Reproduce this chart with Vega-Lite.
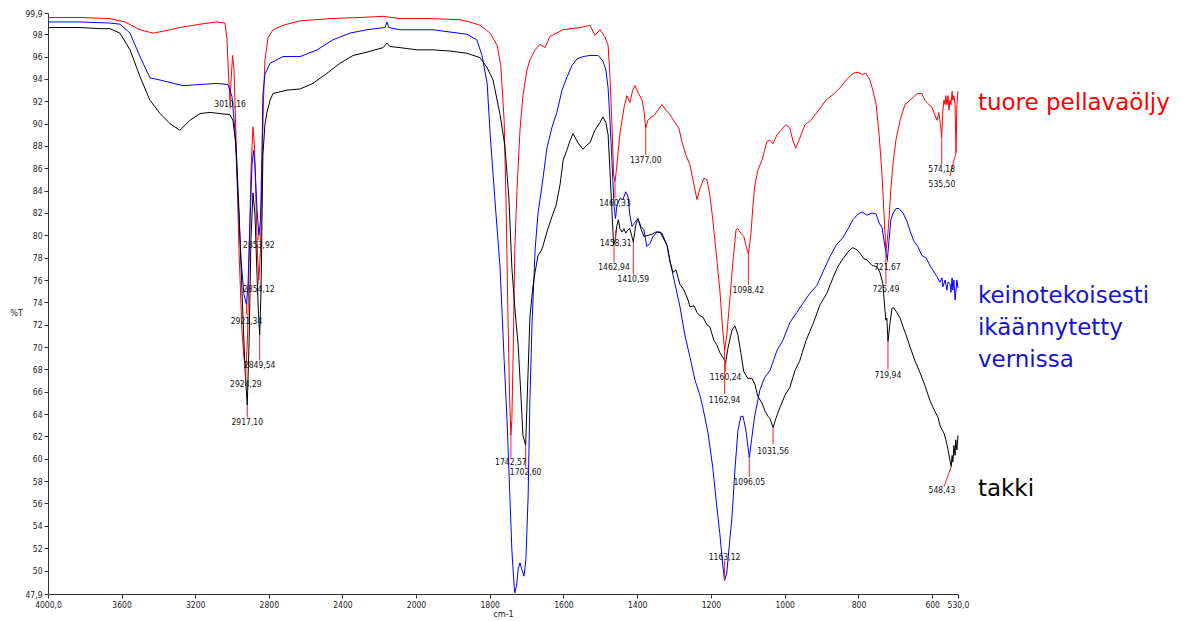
{
"$schema": "https://vega.github.io/schema/vega-lite/v6.json",
"width": 910, "height": 581,
"autosize": {"type": "none"},
"padding": {"left": 48, "top": 13, "right": 225, "bottom": 27},
"config": {"view": {"stroke": null}, "font": "DejaVu Sans"},
"resolve": {"scale": {"color": "independent"}},
"datasets": {
"spectra": [
{"series":"red","wn":4000,"T":99.5},{"series":"red","wn":3826,"T":99.5},{"series":"red","wn":3663,"T":99.4},{"series":"red","wn":3582,"T":99.1},{"series":"red","wn":3500,"T":98.4},{"series":"red","wn":3429,"T":98.1},{"series":"red","wn":3364,"T":98.3},{"series":"red","wn":3283,"T":98.6},{"series":"red","wn":3174,"T":98.9},{"series":"red","wn":3082,"T":99.1},{"series":"red","wn":3038,"T":99.0},{"series":"red","wn":3027,"T":97.5},{"series":"red","wn":3019,"T":94.3},{"series":"red","wn":3011,"T":92.1},{"series":"red","wn":3005,"T":93.9},{"series":"red","wn":2997,"T":96.1},{"series":"red","wn":2989,"T":94.8},{"series":"red","wn":2978,"T":88.7},{"series":"red","wn":2962,"T":78.7},{"series":"red","wn":2946,"T":71.5},{"series":"red","wn":2935,"T":69.0},{"series":"red","wn":2924,"T":68.2},{"series":"red","wn":2916,"T":70.6},{"series":"red","wn":2907,"T":77.8},{"series":"red","wn":2897,"T":85.8},{"series":"red","wn":2886,"T":89.7},{"series":"red","wn":2878,"T":88.1},{"series":"red","wn":2870,"T":83.2},{"series":"red","wn":2861,"T":78.2},{"series":"red","wn":2854,"T":76.0},{"series":"red","wn":2845,"T":78.7},{"series":"red","wn":2837,"T":85.8},{"series":"red","wn":2829,"T":92.1},{"series":"red","wn":2821,"T":95.7},{"series":"red","wn":2804,"T":97.7},{"series":"red","wn":2777,"T":98.4},{"series":"red","wn":2723,"T":98.8},{"series":"red","wn":2630,"T":99.2},{"series":"red","wn":2467,"T":99.4},{"series":"red","wn":2304,"T":99.5},{"series":"red","wn":2179,"T":99.6},{"series":"red","wn":2087,"T":99.4},{"series":"red","wn":1962,"T":99.4},{"series":"red","wn":1881,"T":99.3},{"series":"red","wn":1854,"T":99.1},{"series":"red","wn":1826,"T":98.8},{"series":"red","wn":1799,"T":98.1},{"series":"red","wn":1780,"T":97.0},{"series":"red","wn":1770,"T":95.2},{"series":"red","wn":1761,"T":90.3},{"series":"red","wn":1756,"T":83.3},{"series":"red","wn":1751,"T":73.5},{"series":"red","wn":1746,"T":65.4},{"series":"red","wn":1742.6,"T":62.1},{"series":"red","wn":1740,"T":63.5},{"series":"red","wn":1736,"T":70.2},{"series":"red","wn":1732,"T":78.8},{"series":"red","wn":1726,"T":84.1},{"series":"red","wn":1718,"T":89.4},{"series":"red","wn":1710,"T":92.5},{"series":"red","wn":1699,"T":94.8},{"series":"red","wn":1691,"T":95.7},{"series":"red","wn":1677,"T":96.6},{"series":"red","wn":1664,"T":97.1},{"series":"red","wn":1650,"T":96.8},{"series":"red","wn":1637,"T":97.8},{"series":"red","wn":1601,"T":98.4},{"series":"red","wn":1555,"T":98.6},{"series":"red","wn":1528,"T":98.8},{"series":"red","wn":1515,"T":97.9},{"series":"red","wn":1501,"T":98.4},{"series":"red","wn":1488,"T":97.8},{"series":"red","wn":1479,"T":97.0},{"series":"red","wn":1474,"T":94.3},{"series":"red","wn":1468,"T":89.4},{"series":"red","wn":1464,"T":85.4},{"series":"red","wn":1460.3,"T":84.8},{"series":"red","wn":1455,"T":86.3},{"series":"red","wn":1447,"T":89.1},{"series":"red","wn":1436,"T":91.4},{"series":"red","wn":1428,"T":92.5},{"series":"red","wn":1420,"T":91.9},{"series":"red","wn":1412,"T":93.0},{"series":"red","wn":1406,"T":93.4},{"series":"red","wn":1398,"T":92.8},{"series":"red","wn":1387,"T":92.1},{"series":"red","wn":1382,"T":91.2},{"series":"red","wn":1377,"T":89.6},{"series":"red","wn":1371,"T":90.3},{"series":"red","wn":1365,"T":90.5},{"series":"red","wn":1355,"T":90.7},{"series":"red","wn":1344,"T":91.2},{"series":"red","wn":1333,"T":91.7},{"series":"red","wn":1322,"T":91.2},{"series":"red","wn":1311,"T":90.8},{"series":"red","wn":1298,"T":90.1},{"series":"red","wn":1287,"T":89.6},{"series":"red","wn":1279,"T":88.4},{"series":"red","wn":1268,"T":87.2},{"series":"red","wn":1257,"T":86.3},{"series":"red","wn":1246,"T":84.5},{"series":"red","wn":1238,"T":83.2},{"series":"red","wn":1230,"T":84.2},{"series":"red","wn":1219,"T":85.1},{"series":"red","wn":1211,"T":85.0},{"series":"red","wn":1203,"T":83.6},{"series":"red","wn":1195,"T":81.4},{"series":"red","wn":1184,"T":77.8},{"series":"red","wn":1176,"T":75.1},{"series":"red","wn":1168,"T":71.5},{"series":"red","wn":1162.9,"T":69.7},{"series":"red","wn":1157,"T":71.1},{"series":"red","wn":1149,"T":74.2},{"series":"red","wn":1140,"T":77.8},{"series":"red","wn":1132,"T":80.5},{"series":"red","wn":1127,"T":80.6},{"series":"red","wn":1119,"T":80.2},{"series":"red","wn":1111,"T":79.9},{"series":"red","wn":1105,"T":79.1},{"series":"red","wn":1098.4,"T":78.3},{"series":"red","wn":1092,"T":80.0},{"series":"red","wn":1086,"T":82.7},{"series":"red","wn":1081,"T":84.5},{"series":"red","wn":1073,"T":85.8},{"series":"red","wn":1062,"T":86.7},{"series":"red","wn":1048,"T":88.4},{"series":"red","wn":1040,"T":88.5},{"series":"red","wn":1032,"T":88.2},{"series":"red","wn":1021,"T":89.0},{"series":"red","wn":1010,"T":89.4},{"series":"red","wn":997,"T":89.9},{"series":"red","wn":986,"T":89.6},{"series":"red","wn":978,"T":88.5},{"series":"red","wn":970,"T":87.8},{"series":"red","wn":959,"T":88.7},{"series":"red","wn":945,"T":89.9},{"series":"red","wn":929,"T":90.3},{"series":"red","wn":910,"T":91.1},{"series":"red","wn":888,"T":92.1},{"series":"red","wn":869,"T":92.6},{"series":"red","wn":850,"T":93.2},{"series":"red","wn":833,"T":93.9},{"series":"red","wn":815,"T":94.5},{"series":"red","wn":801,"T":94.6},{"series":"red","wn":790,"T":94.4},{"series":"red","wn":780,"T":94.5},{"series":"red","wn":769,"T":93.9},{"series":"red","wn":761,"T":93.0},{"series":"red","wn":752,"T":91.7},{"series":"red","wn":744,"T":89.0},{"series":"red","wn":736,"T":85.4},{"series":"red","wn":731,"T":82.2},{"series":"red","wn":725.5,"T":78.6},{"series":"red","wn":721.5,"T":79.6},{"series":"red","wn":717,"T":81.5},{"series":"red","wn":712,"T":84.2},{"series":"red","wn":706,"T":86.5},{"series":"red","wn":698,"T":88.6},{"series":"red","wn":687,"T":90.3},{"series":"red","wn":674,"T":91.7},{"series":"red","wn":660,"T":92.1},{"series":"red","wn":647,"T":92.5},{"series":"red","wn":639,"T":92.7},{"series":"red","wn":628,"T":92.7},{"series":"red","wn":620,"T":92.1},{"series":"red","wn":612,"T":91.8},{"series":"red","wn":601,"T":91.5},{"series":"red","wn":593,"T":90.8},{"series":"red","wn":587,"T":90.3},{"series":"red","wn":582,"T":91.0},{"series":"red","wn":578,"T":90.0},{"series":"red","wn":574.2,"T":88.8},{"series":"red","wn":571,"T":91.2},{"series":"red","wn":568,"T":92.1},{"series":"red","wn":565,"T":91.7},{"series":"red","wn":563,"T":92.5},{"series":"red","wn":560,"T":91.7},{"series":"red","wn":557,"T":92.5},{"series":"red","wn":554.5,"T":91.2},{"series":"red","wn":552,"T":92.1},{"series":"red","wn":549,"T":91.7},{"series":"red","wn":546,"T":92.9},{"series":"red","wn":544,"T":92.1},{"series":"red","wn":541,"T":92.5},{"series":"red","wn":538,"T":91.7},{"series":"red","wn":535.5,"T":87.4},{"series":"red","wn":533,"T":91.7},{"series":"red","wn":530,"T":92.9},
{"series":"blue","wn":4000,"T":99.1},{"series":"blue","wn":3826,"T":99.1},{"series":"blue","wn":3663,"T":99.0},{"series":"blue","wn":3609,"T":98.9},{"series":"blue","wn":3554,"T":98.1},{"series":"blue","wn":3500,"T":96.0},{"series":"blue","wn":3446,"T":94.1},{"series":"blue","wn":3391,"T":93.9},{"series":"blue","wn":3266,"T":93.4},{"series":"blue","wn":3174,"T":93.5},{"series":"blue","wn":3082,"T":93.6},{"series":"blue","wn":3022,"T":93.5},{"series":"blue","wn":3000,"T":92.4},{"series":"blue","wn":2984,"T":89.4},{"series":"blue","wn":2967,"T":83.3},{"series":"blue","wn":2951,"T":77.8},{"series":"blue","wn":2935,"T":74.7},{"series":"blue","wn":2921.3,"T":73.8},{"series":"blue","wn":2913,"T":75.6},{"series":"blue","wn":2902,"T":81.4},{"series":"blue","wn":2891,"T":86.3},{"series":"blue","wn":2883,"T":87.6},{"series":"blue","wn":2875,"T":86.3},{"series":"blue","wn":2864,"T":82.3},{"series":"blue","wn":2853.9,"T":80.0},{"series":"blue","wn":2845,"T":81.4},{"series":"blue","wn":2837,"T":87.6},{"series":"blue","wn":2832,"T":92.6},{"series":"blue","wn":2821,"T":94.4},{"series":"blue","wn":2793,"T":95.4},{"series":"blue","wn":2723,"T":96.0},{"series":"blue","wn":2630,"T":96.0},{"series":"blue","wn":2538,"T":96.6},{"series":"blue","wn":2451,"T":97.5},{"series":"blue","wn":2359,"T":98.1},{"series":"blue","wn":2266,"T":98.4},{"series":"blue","wn":2168,"T":98.6},{"series":"blue","wn":2158,"T":99.1},{"series":"blue","wn":2147,"T":98.6},{"series":"blue","wn":2087,"T":98.4},{"series":"blue","wn":1997,"T":98.4},{"series":"blue","wn":1954,"T":98.4},{"series":"blue","wn":1908,"T":98.2},{"series":"blue","wn":1862,"T":98.0},{"series":"blue","wn":1835,"T":97.5},{"series":"blue","wn":1821,"T":96.1},{"series":"blue","wn":1807,"T":93.6},{"series":"blue","wn":1799,"T":89.1},{"series":"blue","wn":1786,"T":83.2},{"series":"blue","wn":1772,"T":77.1},{"series":"blue","wn":1761,"T":68.9},{"series":"blue","wn":1753,"T":63.4},{"series":"blue","wn":1745,"T":56.3},{"series":"blue","wn":1740,"T":51.8},{"series":"blue","wn":1734,"T":48.7},{"series":"blue","wn":1732,"T":48.0},{"series":"blue","wn":1727,"T":48.7},{"series":"blue","wn":1723,"T":50.1},{"series":"blue","wn":1718,"T":50.7},{"series":"blue","wn":1713,"T":50.1},{"series":"blue","wn":1707,"T":49.5},{"series":"blue","wn":1702,"T":51.0},{"series":"blue","wn":1696,"T":56.5},{"series":"blue","wn":1691,"T":65.4},{"series":"blue","wn":1685,"T":72.4},{"series":"blue","wn":1677,"T":78.7},{"series":"blue","wn":1669,"T":82.0},{"series":"blue","wn":1658,"T":84.5},{"series":"blue","wn":1645,"T":87.8},{"series":"blue","wn":1631,"T":89.7},{"series":"blue","wn":1618,"T":91.0},{"series":"blue","wn":1604,"T":93.0},{"series":"blue","wn":1590,"T":94.2},{"series":"blue","wn":1577,"T":95.2},{"series":"blue","wn":1563,"T":95.8},{"series":"blue","wn":1547,"T":96.0},{"series":"blue","wn":1528,"T":96.1},{"series":"blue","wn":1506,"T":96.1},{"series":"blue","wn":1493,"T":95.6},{"series":"blue","wn":1485,"T":94.8},{"series":"blue","wn":1479,"T":93.2},{"series":"blue","wn":1474,"T":90.3},{"series":"blue","wn":1468,"T":86.3},{"series":"blue","wn":1463,"T":82.7},{"series":"blue","wn":1459,"T":81.5},{"series":"blue","wn":1455,"T":82.7},{"series":"blue","wn":1447,"T":83.3},{"series":"blue","wn":1439,"T":83.2},{"series":"blue","wn":1431,"T":83.9},{"series":"blue","wn":1425,"T":83.5},{"series":"blue","wn":1420,"T":81.8},{"series":"blue","wn":1414,"T":80.8},{"series":"blue","wn":1406,"T":81.2},{"series":"blue","wn":1398,"T":81.5},{"series":"blue","wn":1390,"T":80.8},{"series":"blue","wn":1382,"T":80.5},{"series":"blue","wn":1374,"T":79.0},{"series":"blue","wn":1365,"T":79.3},{"series":"blue","wn":1357,"T":79.9},{"series":"blue","wn":1346,"T":80.3},{"series":"blue","wn":1333,"T":80.2},{"series":"blue","wn":1319,"T":79.1},{"series":"blue","wn":1311,"T":77.7},{"series":"blue","wn":1298,"T":75.7},{"series":"blue","wn":1284,"T":73.6},{"series":"blue","wn":1271,"T":71.1},{"series":"blue","wn":1257,"T":69.1},{"series":"blue","wn":1243,"T":67.0},{"series":"blue","wn":1230,"T":65.7},{"series":"blue","wn":1222,"T":64.6},{"series":"blue","wn":1208,"T":62.3},{"series":"blue","wn":1195,"T":59.2},{"series":"blue","wn":1186,"T":56.3},{"series":"blue","wn":1176,"T":53.3},{"series":"blue","wn":1168,"T":50.5},{"series":"blue","wn":1163.1,"T":49.1},{"series":"blue","wn":1157,"T":49.8},{"series":"blue","wn":1149,"T":52.7},{"series":"blue","wn":1143,"T":54.8},{"series":"blue","wn":1135,"T":59.0},{"series":"blue","wn":1127,"T":62.5},{"series":"blue","wn":1119,"T":63.8},{"series":"blue","wn":1113,"T":63.8},{"series":"blue","wn":1105,"T":62.5},{"series":"blue","wn":1096,"T":60.1},{"series":"blue","wn":1090,"T":61.7},{"series":"blue","wn":1081,"T":63.9},{"series":"blue","wn":1067,"T":66.2},{"series":"blue","wn":1054,"T":67.3},{"series":"blue","wn":1040,"T":67.9},{"series":"blue","wn":1021,"T":69.7},{"series":"blue","wn":1005,"T":70.6},{"series":"blue","wn":986,"T":72.2},{"series":"blue","wn":967,"T":73.1},{"series":"blue","wn":951,"T":73.9},{"series":"blue","wn":932,"T":74.8},{"series":"blue","wn":913,"T":75.5},{"series":"blue","wn":894,"T":76.9},{"series":"blue","wn":877,"T":78.1},{"series":"blue","wn":861,"T":79.1},{"series":"blue","wn":842,"T":79.8},{"series":"blue","wn":828,"T":80.6},{"series":"blue","wn":815,"T":81.4},{"series":"blue","wn":801,"T":81.9},{"series":"blue","wn":790,"T":82.1},{"series":"blue","wn":777,"T":81.8},{"series":"blue","wn":763,"T":82.0},{"series":"blue","wn":752,"T":81.9},{"series":"blue","wn":744,"T":81.1},{"series":"blue","wn":736,"T":80.7},{"series":"blue","wn":731,"T":79.6},{"series":"blue","wn":725.5,"T":78.5},{"series":"blue","wn":721.7,"T":77.8},{"series":"blue","wn":717,"T":79.6},{"series":"blue","wn":712,"T":81.4},{"series":"blue","wn":706,"T":82.0},{"series":"blue","wn":698,"T":82.4},{"series":"blue","wn":690,"T":82.4},{"series":"blue","wn":679,"T":82.0},{"series":"blue","wn":668,"T":81.2},{"series":"blue","wn":660,"T":80.4},{"series":"blue","wn":650,"T":79.5},{"series":"blue","wn":639,"T":79.0},{"series":"blue","wn":628,"T":78.2},{"series":"blue","wn":617,"T":78.0},{"series":"blue","wn":606,"T":77.3},{"series":"blue","wn":595,"T":76.7},{"series":"blue","wn":587,"T":76.3},{"series":"blue","wn":579,"T":75.8},{"series":"blue","wn":573.5,"T":76.2},{"series":"blue","wn":571,"T":75.4},{"series":"blue","wn":565,"T":76.0},{"series":"blue","wn":560,"T":75.1},{"series":"blue","wn":557,"T":75.8},{"series":"blue","wn":552,"T":75.7},{"series":"blue","wn":549,"T":74.9},{"series":"blue","wn":546,"T":76.2},{"series":"blue","wn":544,"T":75.1},{"series":"blue","wn":541,"T":76.0},{"series":"blue","wn":538,"T":74.2},{"series":"blue","wn":536,"T":74.9},{"series":"blue","wn":533,"T":76.0},{"series":"blue","wn":530,"T":75.3},
{"series":"black","wn":4000,"T":98.6},{"series":"black","wn":3826,"T":98.6},{"series":"black","wn":3717,"T":98.5},{"series":"black","wn":3663,"T":98.5},{"series":"black","wn":3609,"T":98.1},{"series":"black","wn":3554,"T":96.6},{"series":"black","wn":3500,"T":94.2},{"series":"black","wn":3446,"T":92.1},{"series":"black","wn":3391,"T":90.9},{"series":"black","wn":3337,"T":90.0},{"series":"black","wn":3283,"T":89.4},{"series":"black","wn":3228,"T":90.3},{"series":"black","wn":3174,"T":90.9},{"series":"black","wn":3120,"T":91.0},{"series":"black","wn":3065,"T":90.9},{"series":"black","wn":3011,"T":90.8},{"series":"black","wn":2995,"T":90.3},{"series":"black","wn":2978,"T":88.0},{"series":"black","wn":2962,"T":82.2},{"series":"black","wn":2946,"T":75.1},{"series":"black","wn":2929,"T":67.9},{"series":"black","wn":2917.1,"T":64.8},{"series":"black","wn":2907,"T":70.6},{"series":"black","wn":2897,"T":79.6},{"series":"black","wn":2886,"T":83.8},{"series":"black","wn":2875,"T":81.8},{"series":"black","wn":2864,"T":76.4},{"series":"black","wn":2856,"T":72.9},{"series":"black","wn":2849.5,"T":71.1},{"series":"black","wn":2842,"T":75.1},{"series":"black","wn":2837,"T":81.4},{"series":"black","wn":2832,"T":87.2},{"series":"black","wn":2821,"T":89.9},{"series":"black","wn":2810,"T":91.0},{"series":"black","wn":2793,"T":92.1},{"series":"black","wn":2777,"T":92.7},{"series":"black","wn":2701,"T":93.0},{"series":"black","wn":2630,"T":93.1},{"series":"black","wn":2560,"T":93.6},{"series":"black","wn":2484,"T":94.5},{"series":"black","wn":2413,"T":95.4},{"series":"black","wn":2342,"T":96.1},{"series":"black","wn":2266,"T":96.4},{"series":"black","wn":2179,"T":96.8},{"series":"black","wn":2158,"T":97.2},{"series":"black","wn":2141,"T":96.9},{"series":"black","wn":2087,"T":96.8},{"series":"black","wn":1997,"T":96.6},{"series":"black","wn":1954,"T":96.6},{"series":"black","wn":1908,"T":96.5},{"series":"black","wn":1862,"T":96.3},{"series":"black","wn":1826,"T":95.9},{"series":"black","wn":1807,"T":95.0},{"series":"black","wn":1791,"T":93.9},{"series":"black","wn":1772,"T":90.8},{"series":"black","wn":1759,"T":88.0},{"series":"black","wn":1748,"T":83.3},{"series":"black","wn":1740,"T":77.1},{"series":"black","wn":1732,"T":73.5},{"series":"black","wn":1723,"T":70.2},{"series":"black","wn":1715,"T":65.4},{"series":"black","wn":1710,"T":62.1},{"series":"black","wn":1702.6,"T":61.2},{"series":"black","wn":1696,"T":67.8},{"series":"black","wn":1691,"T":72.7},{"series":"black","wn":1683,"T":75.4},{"series":"black","wn":1677,"T":76.7},{"series":"black","wn":1669,"T":78.2},{"series":"black","wn":1661,"T":78.6},{"series":"black","wn":1656,"T":79.0},{"series":"black","wn":1645,"T":80.3},{"series":"black","wn":1631,"T":81.7},{"series":"black","wn":1620,"T":82.7},{"series":"black","wn":1609,"T":84.6},{"series":"black","wn":1601,"T":86.7},{"series":"black","wn":1590,"T":87.7},{"series":"black","wn":1582,"T":88.5},{"series":"black","wn":1574,"T":89.1},{"series":"black","wn":1561,"T":88.3},{"series":"black","wn":1547,"T":87.7},{"series":"black","wn":1536,"T":88.1},{"series":"black","wn":1528,"T":88.3},{"series":"black","wn":1515,"T":89.4},{"series":"black","wn":1501,"T":90.1},{"series":"black","wn":1493,"T":90.6},{"series":"black","wn":1485,"T":90.1},{"series":"black","wn":1479,"T":89.0},{"series":"black","wn":1474,"T":85.8},{"series":"black","wn":1468,"T":81.8},{"series":"black","wn":1464,"T":79.1},{"series":"black","wn":1460,"T":79.6},{"series":"black","wn":1455,"T":80.9},{"series":"black","wn":1451,"T":81.4},{"series":"black","wn":1447,"T":80.6},{"series":"black","wn":1441,"T":80.3},{"series":"black","wn":1436,"T":80.6},{"series":"black","wn":1431,"T":80.2},{"series":"black","wn":1425,"T":80.5},{"series":"black","wn":1420,"T":80.6},{"series":"black","wn":1410.6,"T":79.4},{"series":"black","wn":1404,"T":80.9},{"series":"black","wn":1398,"T":81.5},{"series":"black","wn":1390,"T":80.6},{"series":"black","wn":1382,"T":79.9},{"series":"black","wn":1371,"T":80.0},{"series":"black","wn":1360,"T":80.1},{"series":"black","wn":1349,"T":80.3},{"series":"black","wn":1338,"T":80.3},{"series":"black","wn":1330,"T":79.8},{"series":"black","wn":1319,"T":79.1},{"series":"black","wn":1311,"T":77.6},{"series":"black","wn":1303,"T":76.7},{"series":"black","wn":1295,"T":76.9},{"series":"black","wn":1284,"T":75.6},{"series":"black","wn":1273,"T":75.1},{"series":"black","wn":1262,"T":74.2},{"series":"black","wn":1257,"T":73.6},{"series":"black","wn":1246,"T":73.7},{"series":"black","wn":1238,"T":73.1},{"series":"black","wn":1230,"T":72.8},{"series":"black","wn":1222,"T":72.7},{"series":"black","wn":1211,"T":72.0},{"series":"black","wn":1203,"T":71.8},{"series":"black","wn":1192,"T":70.6},{"series":"black","wn":1184,"T":70.2},{"series":"black","wn":1176,"T":69.5},{"series":"black","wn":1168,"T":69.1},{"series":"black","wn":1160.2,"T":68.6},{"series":"black","wn":1154,"T":69.9},{"series":"black","wn":1143,"T":71.5},{"series":"black","wn":1135,"T":71.9},{"series":"black","wn":1127,"T":71.1},{"series":"black","wn":1119,"T":69.5},{"series":"black","wn":1111,"T":67.8},{"series":"black","wn":1100,"T":67.2},{"series":"black","wn":1089,"T":67.2},{"series":"black","wn":1081,"T":66.7},{"series":"black","wn":1073,"T":65.6},{"series":"black","wn":1062,"T":65.0},{"series":"black","wn":1054,"T":64.3},{"series":"black","wn":1045,"T":63.8},{"series":"black","wn":1040,"T":63.6},{"series":"black","wn":1031.6,"T":62.8},{"series":"black","wn":1024,"T":63.6},{"series":"black","wn":1013,"T":64.6},{"series":"black","wn":999,"T":65.7},{"series":"black","wn":986,"T":66.4},{"series":"black","wn":972,"T":67.9},{"series":"black","wn":959,"T":68.8},{"series":"black","wn":942,"T":70.6},{"series":"black","wn":923,"T":72.1},{"series":"black","wn":904,"T":73.8},{"series":"black","wn":886,"T":74.8},{"series":"black","wn":869,"T":76.2},{"series":"black","wn":856,"T":77.2},{"series":"black","wn":842,"T":77.9},{"series":"black","wn":831,"T":78.4},{"series":"black","wn":823,"T":78.7},{"series":"black","wn":815,"T":78.9},{"series":"black","wn":804,"T":78.7},{"series":"black","wn":796,"T":78.4},{"series":"black","wn":785,"T":77.9},{"series":"black","wn":777,"T":77.8},{"series":"black","wn":763,"T":77.3},{"series":"black","wn":750,"T":77.2},{"series":"black","wn":742,"T":76.7},{"series":"black","wn":734,"T":75.7},{"series":"black","wn":728,"T":73.3},{"series":"black","wn":725.5,"T":72.4},{"series":"black","wn":723,"T":72.6},{"series":"black","wn":719.9,"T":70.5},{"series":"black","wn":715,"T":72.0},{"series":"black","wn":709,"T":73.5},{"series":"black","wn":704,"T":73.5},{"series":"black","wn":696,"T":73.1},{"series":"black","wn":687,"T":72.6},{"series":"black","wn":679,"T":71.8},{"series":"black","wn":671,"T":71.1},{"series":"black","wn":660,"T":70.0},{"series":"black","wn":647,"T":68.8},{"series":"black","wn":633,"T":67.7},{"series":"black","wn":620,"T":66.6},{"series":"black","wn":606,"T":65.2},{"series":"black","wn":595,"T":64.4},{"series":"black","wn":584,"T":63.7},{"series":"black","wn":579,"T":63.0},{"series":"black","wn":573.5,"T":62.6},{"series":"black","wn":568,"T":62.3},{"series":"black","wn":563,"T":61.7},{"series":"black","wn":557,"T":60.8},{"series":"black","wn":552,"T":59.9},{"series":"black","wn":548.4,"T":59.3},{"series":"black","wn":546,"T":60.3},{"series":"black","wn":544,"T":59.7},{"series":"black","wn":541,"T":61.2},{"series":"black","wn":538,"T":60.3},{"series":"black","wn":536,"T":61.7},{"series":"black","wn":533,"T":60.8},{"series":"black","wn":530,"T":62.1}
],
"ticks": [
{"wn":3010.16,"T":92.1,"wn2":3010.16,"T2":91.3},{"wn":2853.92,"T":80.0,"wn2":2853.92,"T2":79.6},{"wn":2854.12,"T":76.0,"wn2":2854.12,"T2":75.6},{"wn":2921.34,"T":73.8,"wn2":2921.34,"T2":72.9},{"wn":2849.54,"T":71.1,"wn2":2849.54,"T2":68.8},{"wn":2924.29,"T":68.2,"wn2":2924.29,"T2":67.1},{"wn":2917.10,"T":64.8,"wn2":2917.10,"T2":63.7},{"wn":1742.57,"T":62.1,"wn2":1742.57,"T2":60.1},{"wn":1702.60,"T":61.2,"wn2":1702.60,"T2":59.2},{"wn":1460.33,"T":84.8,"wn2":1460.33,"T2":83.3},{"wn":1458.31,"T":80.5,"wn2":1458.31,"T2":79.7},{"wn":1462.94,"T":79.1,"wn2":1462.94,"T2":77.6},{"wn":1410.59,"T":79.4,"wn2":1410.59,"T2":76.5},{"wn":1377.00,"T":89.6,"wn2":1377.00,"T2":87.2},{"wn":1160.24,"T":68.6,"wn2":1160.24,"T2":67.8},{"wn":1162.94,"T":69.7,"wn2":1162.94,"T2":65.8},{"wn":1098.42,"T":78.3,"wn2":1098.42,"T2":75.6},{"wn":1163.12,"T":49.1,"wn2":1163.12,"T2":50.9},{"wn":1096.05,"T":60.1,"wn2":1096.05,"T2":58.4},{"wn":1031.56,"T":62.8,"wn2":1031.56,"T2":61.3},{"wn":721.67,"T":77.8,"wn2":721.67,"T2":77.6},{"wn":725.49,"T":78.6,"wn2":725.49,"T2":75.6},{"wn":719.94,"T":70.5,"wn2":719.94,"T2":68.0},{"wn":574.18,"T":88.8,"wn2":574.18,"T2":86.3},{"wn":535.50,"T":87.4,"wn2":552,"T2":85.3},{"wn":548.43,"T":59.3,"wn2":568,"T2":57.5}
],
"labels": [
{"wn":3010.16,"T":91.8,"label":"3010,16"},{"wn":2853.92,"T":79.1,"label":"2853,92"},{"wn":2854.12,"T":75.2,"label":"2854,12"},{"wn":2921.34,"T":72.3,"label":"2921,34"},{"wn":2849.54,"T":68.4,"label":"2849,54"},{"wn":2924.29,"T":66.7,"label":"2924,29"},{"wn":2917.10,"T":63.3,"label":"2917,10"},{"wn":1742.57,"T":59.7,"label":"1742,57"},{"wn":1702.60,"T":58.8,"label":"1702,60"},{"wn":1460.33,"T":82.9,"label":"1460,33"},{"wn":1458.31,"T":79.3,"label":"1458,31"},{"wn":1462.94,"T":77.2,"label":"1462,94"},{"wn":1410.59,"T":76.1,"label":"1410,59"},{"wn":1377.00,"T":86.7,"label":"1377,00"},{"wn":1160.24,"T":67.3,"label":"1160,24"},{"wn":1162.94,"T":65.3,"label":"1162,94"},{"wn":1098.42,"T":75.1,"label":"1098,42"},{"wn":1163.12,"T":51.2,"label":"1163,12"},{"wn":1096.05,"T":57.9,"label":"1096,05"},{"wn":1031.56,"T":60.7,"label":"1031,56"},{"wn":721.67,"T":77.2,"label":"721,67"},{"wn":725.49,"T":75.2,"label":"725,49"},{"wn":719.94,"T":67.5,"label":"719,94"},{"wn":574.18,"T":85.9,"label":"574,18"},{"wn":573.5,"T":84.6,"label":"535,50"},{"wn":573.5,"T":57.2,"label":"548,43"}
],
"legend": [
{"wn":476,"T":91.2,"label":"tuore pellavaöljy","series":"red"},
{"wn":476,"T":73.96,"label":"keinotekoisesti","series":"blue"},
{"wn":476,"T":71.1,"label":"ikäännytetty","series":"blue"},
{"wn":476,"T":68.25,"label":"vernissa","series":"blue"},
{"wn":476,"T":56.65,"label":"takki","series":"black"}
]
},
"encoding": {
"x": {"field": "wn", "type": "quantitative",
 "scale": {"type": "linear", "domain": [4000, 2000, 530], "range": [0, 368, 910], "nice": false, "zero": false},
 "axis": {"values": [4000,3600,3200,2800,2400,2000,1800,1600,1400,1200,1000,800,600,530],
  "labelExpr": "datum.value == 4000 ? '4000,0' : datum.value == 530 ? '530,0' : toString(datum.value)",
  "title": "cm-1", "grid": false, "tickSize": 4, "labelPadding": 2, "labelFontSize": 8.5, "labelFont": "DejaVu Sans Condensed, DejaVu Sans",
  "labelColor": "#222", "labelFlush": false, "labelOverlap": false, "domainColor": "#333", "tickColor": "#333",
  "titleFontSize": 9, "titleFontWeight": "normal", "titleFont": "DejaVu Sans Condensed, DejaVu Sans", "titleColor": "#222", "titlePadding": 1}},
"y": {"field": "T", "type": "quantitative",
 "scale": {"domain": [47.9, 99.9], "nice": false, "zero": false},
 "axis": {"values": [47.9,50,52,54,56,58,60,62,64,66,68,70,72,74,76,78,80,82,84,86,88,90,92,94,96,98,99.9],
  "labelExpr": "replace(toString(datum.value), '.', ',')",
  "title": "%T", "titleAngle": 0, "titleX": -32, "titleY": 299, "titleAlign": "center", "titleBaseline": "middle",
  "grid": false, "tickSize": 4, "labelPadding": 2, "labelFontSize": 8.5, "labelFont": "DejaVu Sans Condensed, DejaVu Sans",
  "labelColor": "#222", "labelOverlap": false, "labelFlush": false, "domainColor": "#333", "tickColor": "#333",
  "titleFontSize": 9, "titleFontWeight": "normal", "titleFont": "DejaVu Sans Condensed, DejaVu Sans", "titleColor": "#222"}}
},
"layer": [
{"data": {"name": "spectra"}, "mark": {"type": "line", "strokeWidth": 1},
 "encoding": {"color": {"field": "series", "type": "nominal", "scale": {"domain": ["red","blue","black"], "range": ["#ff0000","#0000ff","#000000"]}, "legend": null}}},
{"data": {"name": "ticks"}, "mark": {"type": "rule", "color": "#ff2020", "strokeWidth": 1},
 "encoding": {"x2": {"field": "wn2"}, "y2": {"field": "T2"}}},
{"data": {"name": "labels"}, "mark": {"type": "text", "fontSize": 8.5, "font": "DejaVu Sans Condensed, DejaVu Sans", "color": "#111", "align": "center", "baseline": "middle"},
 "encoding": {"text": {"field": "label"}}},
{"data": {"name": "legend"}, "mark": {"type": "text", "fontSize": 23, "font": "DejaVu Sans", "align": "left", "baseline": "alphabetic"},
 "encoding": {"text": {"field": "label"}, "color": {"field": "series", "type": "nominal", "scale": {"domain": ["red","blue","black"], "range": ["#ff0000","#1414cc","#000000"]}, "legend": null}}}
]
}
